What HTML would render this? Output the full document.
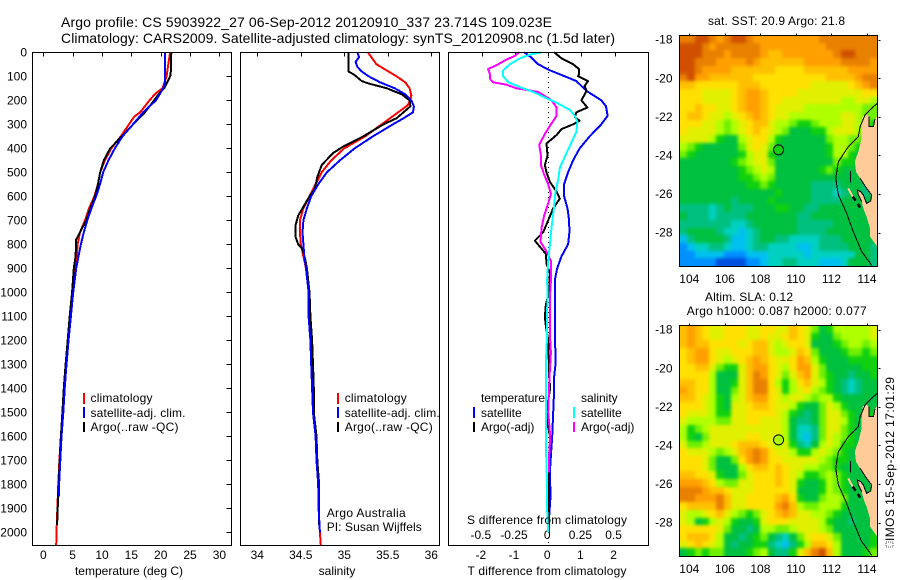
<!DOCTYPE html>
<html lang="en">
<head>
<meta charset="utf-8">
<title>Argo profile chart</title>
<style>
html,body{margin:0;padding:0;background:#fff;}
svg{display:block;font-family:"Liberation Sans",sans-serif;font-size:12px;fill:#000;}
.frame{fill:none;stroke:#000;stroke-width:1;shape-rendering:crispEdges;}
.tick{stroke:#000;stroke-width:1;shape-rendering:crispEdges;}
.curve{fill:none;stroke-width:2;shape-rendering:crispEdges;stroke-linejoin:round;}
.thin{fill:none;stroke:#000;stroke-width:1;shape-rendering:crispEdges;}
</style>
</head>
<body>
<svg id="chart" xmlns="http://www.w3.org/2000/svg" width="900" height="580" viewBox="0 0 900 580">
  <defs>
    <filter id="smooth1" filterUnits="userSpaceOnUse" x="680" y="36" width="197" height="230" color-interpolation-filters="sRGB">
      <feGaussianBlur stdDeviation="1.7"/>
      <feComponentTransfer><feFuncA type="linear" slope="30"/></feComponentTransfer>
    </filter>
    <filter id="smooth2" filterUnits="userSpaceOnUse" x="680" y="326" width="197" height="230" color-interpolation-filters="sRGB">
      <feGaussianBlur stdDeviation="1.7"/>
      <feComponentTransfer><feFuncA type="linear" slope="30"/></feComponentTransfer>
    </filter>
  </defs>
  <rect x="0" y="0" width="900" height="580" fill="#fff"/>
  <text x="61" y="27" font-size="14" textLength="491" lengthAdjust="spacing">Argo profile: CS 5903922_27 06-Sep-2012 20120910_337 23.714S 109.023E</text>
  <text x="61" y="43" font-size="14" textLength="554" lengthAdjust="spacing">Climatology: CARS2009. Satellite-adjusted climatology: synTS_20120908.nc (1.5d later)</text>

  <g id="heat1" filter="url(#smooth1)"></g>
  <g id="heat2" filter="url(#smooth2)"></g>
  <g id="marks"></g>

  <text x="129" y="575" text-anchor="middle">temperature (deg C)</text>
  <text x="337" y="575" text-anchor="middle">salinity</text>
  <text x="547" y="575" text-anchor="middle" textLength="159" lengthAdjust="spacing">T difference from climatology</text>
  <text x="547" y="524" text-anchor="middle" textLength="160" lengthAdjust="spacing">S difference from climatology</text>

  <g>
    <rect x="83" y="393" width="2" height="11" fill="#f00"/>
    <rect x="83" y="407" width="2" height="11" fill="#00f"/>
    <rect x="83" y="422" width="2" height="10" fill="#000"/>
    <text x="90.5" y="402" textLength="62" lengthAdjust="spacing">climatology</text>
    <text x="90.5" y="417" textLength="95" lengthAdjust="spacing">satellite-adj. clim.</text>
    <text x="90.5" y="431" textLength="88" lengthAdjust="spacing">Argo(..raw -QC)</text>
  </g>
  <g>
    <rect x="337" y="393" width="2" height="11" fill="#f00"/>
    <rect x="337" y="407" width="2" height="11" fill="#00f"/>
    <rect x="337" y="422" width="2" height="10" fill="#000"/>
    <text x="344.7" y="402" textLength="62" lengthAdjust="spacing">climatology</text>
    <text x="344.7" y="417" textLength="95" lengthAdjust="spacing">satellite-adj. clim.</text>
    <text x="344.7" y="431" textLength="88" lengthAdjust="spacing">Argo(..raw -QC)</text>
  </g>
  <text x="326.7" y="517" textLength="79" lengthAdjust="spacing">Argo Australia</text>
  <text x="326.7" y="531" textLength="95" lengthAdjust="spacing">PI: Susan Wijffels</text>
  <g>
    <text x="481" y="402" textLength="64" lengthAdjust="spacing">temperature</text>
    <rect x="473" y="407" width="2" height="11" fill="#00f"/>
    <rect x="473" y="422" width="2" height="10" fill="#000"/>
    <text x="481" y="417">satellite</text>
    <text x="481" y="431">Argo(-adj)</text>
    <text x="581" y="402">salinity</text>
    <rect x="573" y="407" width="2" height="11" fill="#0ff"/>
    <rect x="573" y="422" width="2" height="10" fill="#f0f"/>
    <text x="581" y="417">satellite</text>
    <text x="581" y="431">Argo(-adj)</text>
  </g>

  <text x="708" y="25" textLength="137" lengthAdjust="spacing">sat. SST: 20.9 Argo: 21.8</text>
  <text x="705" y="301" textLength="88" lengthAdjust="spacing">Altim. SLA: 0.12</text>
  <text x="686.7" y="315" textLength="180" lengthAdjust="spacing">Argo h1000: 0.087 h2000: 0.077</text>
  <rect x="886" y="542" width="7" height="5" fill="none" stroke="#555" stroke-width="1" stroke-dasharray="1 1"/>
  <text transform="translate(894,541) rotate(-90)" textLength="164" lengthAdjust="spacing">IMOS 15-Sep-2012 17:01:29</text>
</svg>
<script>
// ---------- profile data ----------
const climTempDepth = [0,50,100,150,170,200,250,268,300,350,400,450,500,550,600,650,700,750,800,850,900,1000,1100,1200,1300,1400,1500,1600,1700,1800,1900,2000,2054];
const climTemp = [21.6,21.3,21.0,20.3,19.2,18.1,16.5,15.5,14.6,13.2,11.6,10.5,9.7,9.3,8.7,7.8,7.1,6.25,5.85,5.7,5.45,5.0,4.55,4.2,3.85,3.55,3.3,3.0,2.75,2.55,2.4,2.25,2.2];
const satTempDepth = [0,130,150,200,250,300,350,400,450,500,550,600,650,700,750,800,850,900,1000,1100,1200,1300,1400,1500,1600,1700,1800,1850];
const satTemp = [20.7,20.7,20.45,19.2,17,15.3,13.5,12.2,11.1,10.2,9.66,9,8.2,7.5,6.9,6.4,6,5.6,5.1,4.7,4.3,3.95,3.65,3.4,3.1,2.9,2.7,2.65];
const argoTempDepth = [0,90,100,130,150,170,200,250,300,350,400,450,500,550,600,650,700,750,780,850,900,1000,1100,1200,1300,1400,1500,1600,1700,1800,1900,1970];
const argoTemp = [21.8,21.7,21.6,21,20.6,19.8,18.9,17.3,15.3,13.4,11.4,10.3,9.7,9.3,8.8,8,7.3,6.25,5.6,5.5,5.2,4.9,4.5,4.15,3.8,3.5,3.25,3.0,2.8,2.6,2.45,2.35];

const climSalDepth = [0,50,100,125,150,180,200,220,250,300,350,400,450,500,550,600,650,700,750,800,850,900,1000,1100,1200,1300,1400,1500,1600,1700,1800,1900,2000,2054];
const climSal = [35.27,35.37,35.6,35.7,35.75,35.77,35.76,35.73,35.62,35.43,35.24,35.0,34.85,34.74,34.67,34.6,34.53,34.49,34.49,34.5,34.53,34.56,34.59,34.6,34.61,34.62,34.63,34.64,34.67,34.68,34.7,34.705,34.72,34.73];
const satSalDepth = [0,20,40,60,80,100,125,150,175,200,225,250,275,300,350,400,450,500,550,600,650,700,750,800,850,900,1000,1100,1200,1300,1400,1500,1600,1700,1800,1900,2000];
const satSal = [35.15,35.17,35.13,35.15,35.2,35.28,35.41,35.58,35.7,35.77,35.8,35.79,35.68,35.56,35.33,35.12,34.95,34.8,34.7,34.62,34.57,34.53,34.52,34.53,34.54,34.56,34.59,34.59,34.61,34.62,34.63,34.64,34.67,34.68,34.7,34.705,34.72];
const argoSalDepth = [0,80,95,120,130,150,175,200,225,250,275,300,350,390,420,470,520,570,600,650,680,720,770,800,820,860,900,1000,1100,1200,1300,1400,1500,1600,1700,1800,1900,1970];
const argoSal = [35.05,35.05,35.12,35.2,35.28,35.49,35.66,35.75,35.76,35.68,35.6,35.45,35.22,35,34.87,34.74,34.69,34.66,34.6,34.52,34.47,34.44,34.44,34.47,34.52,34.55,34.57,34.6,34.61,34.63,34.64,34.65,34.65,34.68,34.69,34.71,34.71,34.71];

const satTDiffDepth = [0,20,50,75,100,120,140,165,200,225,265,300,350,400,450,500,550,600,650,700,750,800,850,900,950,1000,1100,1200,1250,1300,1350,1400,1500,1600,1680,1750,1850,1950,2000];
const satTDiff = [-0.72,-0.52,-0.3,0.05,0.5,0.85,1.0,1.2,1.6,1.74,1.79,1.6,1.25,0.95,0.75,0.6,0.48,0.48,0.58,0.63,0.64,0.6,0.4,0.27,0.2,0.2,0.2,0.2,0.22,0.22,0.18,0.18,0.15,0.12,0.08,0.05,0.07,0.02,0.02];
const argoTDiffDepth = [0,25,50,70,90,100,120,140,160,180,200,230,250,270,285,300,320,345,380,430,470,500,540,580,610,650,700,750,785,810,840,880,920,1000,1050,1100,1130,1200,1300,1350,1400,1450,1500,1550,1600,1700,2000];
const argoTDiff = [0.18,0.4,0.75,0.93,0.93,0.9,1.2,1.1,1.15,1.08,1.0,1.18,0.85,0.8,0.95,0.75,0.4,0.25,-0.05,-0.02,-0.1,-0.05,0.05,0.25,0.35,0.15,0,-0.15,-0.4,-0.25,-0.07,-0.05,0.05,0.02,-0.07,-0.1,-0.08,0,0.02,0.03,0.06,0,-0.05,-0.02,0.06,0.02,0];
const argoSDiffDepth = [0,15,30,50,70,90,110,125,135,150,165,200,230,265,300,340,385,430,470,510,550,590,620,680,730,790,830,870,950,1000,1100,1200,1250,1350,1500,1600,1700,1750];
const argoSDiff = [-0.221,-0.25,-0.314,-0.377,-0.452,-0.44,-0.44,-0.415,-0.314,-0.24,-0.075,0.025,0.063,0.063,0.02,-0.025,-0.068,-0.055,-0.055,-0.03,0,0.02,0.005,-0.03,-0.05,-0.058,-0.013,0.02,0.02,0.015,0.013,0.015,0.02,0.01,0,0.015,0.005,0.005];
const satSDiffDepth = [0,10,25,50,75,100,125,145,165,185,210,240,265,290,330,370,420,480,530,580,650,730,800,870,950,1000,1100,1200,1300,1400,1500,1600,1680,1800,1900,2000];
const satSDiff = [-0.05,-0.138,-0.213,-0.289,-0.339,-0.339,-0.3,-0.214,-0.113,-0.038,0.063,0.163,0.2,0.22,0.213,0.18,0.138,0.088,0.075,0.055,0.043,0.025,0.013,0,-0.008,-0.005,-0.008,-0.01,-0.018,-0.018,-0.018,-0.018,-0.015,-0.008,-0.008,0];

// ---------- tick labels ----------
const depthTicks = [0,100,200,300,400,500,600,700,800,900,1000,1100,1200,1300,1400,1500,1600,1700,1800,1900,2000];
const tempTicks = [0,5,10,15,20,25,30];
const salTicks = [34,34.5,35,35.5,36];
const tDiffTicks = [-2,-1,0,1,2];
const sDiffTicks = [-0.5,-0.25,0,0.25,0.5];
const mapLonTicks = [104,106,108,110,112,114];
const mapLatTicks = [-18,-20,-22,-24,-26,-28];

// ---------- map data (colour levels; rows north to south) ----------
const sstRows = [
[13,13,14,14,13,12,13,14,14,13,12,12,12,12,12,12,12,12,12,13,13,13,13,13,13,13,13],
[14,14,14,13,12,13,13,13,13,13,13,12,12,12,12,12,12,12,12,12,13,13,13,13,13,13,13],
[14,14,14,13,13,13,12,13,13,13,13,12,11,11,12,12,12,12,12,12,12,13,14,14,13,13,13],
[14,14,13,13,13,12,12,12,12,13,12,11,11,11,11,11,11,12,12,12,12,12,13,13,13,13,12],
[14,14,13,12,12,12,12,11,11,11,11,11,11,10,10,10,10,11,11,11,11,11,11,12,12,12,12],
[13,14,12,12,11,11,11,11,11,11,10,10,10,10,10,10,10,10,10,10,11,11,11,11,12,13,13],
[11,11,10,10,10,10,10,10,11,11,11,10,10,10,10,10,10,10,9,9,9,9,9,10,11,12,13],
[10,10,10,9,9,9,9,10,11,12,12,11,10,10,10,10,9,9,9,9,9,9,9,9,9,10,10],
[10,10,10,9,9,9,9,10,11,12,12,11,10,10,9,9,9,9,9,9,9,9,8,8,9,9,8],
[10,10,11,10,10,9,9,10,11,12,12,11,10,9,9,9,9,8,8,8,8,8,8,8,8,7,7],
[10,11,11,10,9,9,8,9,10,11,12,11,10,9,9,8,8,8,8,8,8,8,9,9,8,7,7],
[10,10,10,9,9,8,7,8,9,10,11,11,9,8,8,7,6,6,7,8,8,8,9,9,8,7,6],
[10,9,9,9,9,8,7,8,9,10,11,10,9,8,7,5,5,5,6,6,8,9,9,9,8,6,6],
[9,9,9,9,8,6,5,5,8,9,10,10,8,6,5,5,5,5,5,5,7,8,8,7,7,6,6],
[8,7,6,5,5,5,5,5,7,9,10,9,7,5,5,5,5,5,5,5,6,8,8,7,6,5,5],
[7,6,5,5,5,5,5,5,6,8,9,9,6,5,5,5,5,5,5,5,6,8,8,6,5,5,5],
[5,5,5,5,5,5,5,6,7,8,9,9,7,5,5,5,5,5,5,5,5,7,6,6,5,5,5],
[5,5,5,5,5,5,5,5,6,7,8,9,8,5,5,5,5,5,5,6,7,6,5,5,5,5,5],
[5,5,5,5,5,5,5,5,6,6,7,8,7,5,5,5,5,5,5,5,5,5,5,5,5,4,5],
[5,5,5,5,5,5,5,5,5,6,6,7,6,5,5,5,5,5,4,4,4,4,5,5,5,4,4],
[5,5,5,5,5,5,5,5,5,5,5,5,5,6,5,5,5,5,4,4,4,3,4,5,5,4,5],
[5,5,5,5,5,5,5,4,5,5,5,5,6,5,5,5,5,5,4,4,4,4,5,5,5,5,5],
[4,4,4,4,3,4,5,4,4,4,5,5,5,6,6,5,5,4,4,5,5,5,5,5,5,5,5],
[5,4,4,4,3,4,4,4,4,5,5,5,5,5,5,5,4,4,5,5,5,5,5,5,5,5,5],
[4,4,4,4,4,4,4,3,3,4,5,5,5,5,5,5,4,4,4,4,4,5,5,5,5,5,5],
[4,5,5,5,5,4,3,3,2,3,4,5,5,5,5,5,4,4,4,4,5,5,5,5,5,5,5],
[2,4,5,5,5,5,4,2,2,3,4,5,5,4,4,3,3,3,3,4,4,4,5,5,5,5,5],
[1,2,3,3,4,4,3,2,2,3,4,4,3,3,3,3,2,2,3,4,4,4,4,5,5,5,4],
[1,1,2,2,2,2,1,1,1,2,2,2,3,3,3,3,3,2,3,3,3,3,3,3,5,5,4],
[1,1,1,1,1,0,0,0,0,1,1,2,3,3,4,4,3,3,3,2,2,2,3,5,5,5,4]
];
const slaRows = [
[11,12,11,10,9,9,10,10,10,9,9,10,10,9,9,11,10,9,7,5,6,8,8,8,8,8,9],
[11,12,11,10,9,9,10,10,10,9,9,10,9,9,10,11,10,9,6,5,5,7,8,8,8,8,9],
[11,12,11,11,10,10,10,10,9,10,11,11,9,8,9,10,10,9,5,5,5,6,7,8,8,7,8],
[10,11,12,12,10,9,9,10,10,10,11,11,9,8,8,9,11,10,7,5,5,5,6,7,7,6,7],
[10,11,12,12,10,9,8,9,10,11,12,11,10,9,9,10,12,11,8,6,5,5,5,6,6,6,6],
[10,10,11,11,9,7,6,6,9,11,12,12,10,9,8,10,12,12,9,7,5,5,5,5,5,6,6],
[10,10,10,10,8,5,5,5,9,11,13,12,10,9,7,9,11,12,9,7,6,5,5,4,5,5,6],
[11,11,10,10,8,5,5,6,9,11,13,13,10,8,6,8,10,11,9,8,6,5,4,3,4,5,5],
[12,11,10,10,8,5,5,7,9,11,13,13,10,9,6,8,9,10,8,7,6,5,4,3,4,5,5],
[11,11,10,9,8,6,5,8,9,11,12,12,10,9,8,9,9,8,7,8,8,6,5,5,5,5,5],
[10,10,10,9,8,6,5,9,9,10,11,11,10,9,9,8,6,5,5,7,9,8,6,5,5,5,5],
[10,9,9,9,8,6,6,9,9,10,10,10,10,9,8,6,5,4,5,7,9,9,7,6,5,5,6],
[9,8,8,8,8,7,7,9,9,10,10,9,9,9,8,5,4,4,5,7,9,9,8,6,5,5,6],
[8,6,7,8,9,9,9,9,9,9,9,9,9,9,8,5,3,3,4,7,9,9,7,6,5,5,6],
[8,6,5,7,9,9,9,9,9,10,10,9,9,9,8,5,3,2,4,7,9,8,7,6,5,5,6],
[9,7,7,8,9,9,9,10,11,11,11,10,9,8,9,6,4,3,5,8,9,8,6,6,5,5,6],
[10,9,9,9,8,7,8,9,11,12,13,12,10,9,9,8,6,6,8,9,8,7,6,5,5,6,6],
[10,10,10,9,7,5,5,7,10,12,13,12,10,10,9,9,9,9,9,8,7,6,6,5,5,6,6],
[10,10,10,9,7,5,5,5,8,10,11,11,10,11,10,9,9,8,8,7,7,6,5,5,5,5,6],
[11,11,10,10,9,6,5,5,7,9,10,10,10,11,10,9,8,6,6,7,8,7,6,5,5,5,6],
[12,12,12,11,10,8,7,7,9,9,10,10,10,11,10,9,6,5,5,6,8,7,6,5,5,5,5],
[13,13,13,12,11,11,10,9,9,9,10,10,10,10,10,9,5,5,5,6,8,7,6,5,5,5,5],
[13,13,12,12,12,13,11,9,9,10,10,10,10,11,12,10,6,5,5,7,8,8,7,5,5,5,5],
[10,11,11,11,11,13,11,9,9,10,10,10,10,12,13,11,8,7,7,8,8,8,6,5,5,5,5],
[9,8,8,9,10,11,9,8,7,6,7,9,10,11,12,11,9,9,8,8,7,6,5,5,5,5,5],
[9,8,5,6,8,9,8,6,5,5,6,9,10,10,10,9,9,9,9,8,6,5,5,4,5,5,5],
[10,10,10,10,10,9,7,5,5,4,5,8,8,7,7,8,9,9,9,8,7,5,5,5,5,5,5],
[10,11,11,11,10,8,5,5,4,5,6,7,5,4,3,5,7,9,10,10,9,7,5,5,5,5,6],
[9,10,11,10,9,8,5,4,5,5,6,6,4,3,2,4,6,8,11,11,10,8,5,5,5,5,6],
[5,6,7,6,7,7,5,5,5,6,7,8,5,4,4,6,9,11,13,14,11,8,5,5,5,6,7]
];
const levelColours = ["#0050e0","#0090ff","#00c0f0","#00d0c0","#00c080","#00c040","#10d010","#70f000","#b0ff00","#e0f000","#ffe000","#ffc000","#ffa000","#e88000","#d05000"];
const landLon = [114.58,114.45,114.36,114.11,114.11,113.94,113.76,113.70,113.70,113.51,113.32,113.38,113.61,113.98,114.26,114.21,113.98,113.79,113.64,113.46,113.51,113.70,113.79,113.98,114.17,114.17,114.58];
const landLat = [-21.94,-22.11,-22.51,-22.51,-21.99,-21.87,-21.99,-22.60,-23.12,-23.81,-24.33,-24.84,-25.19,-25.71,-26.05,-26.37,-26.49,-26.05,-25.88,-25.80,-26.05,-26.40,-26.75,-27.18,-27.78,-28.22,-28.73];
const bayLon = [113.61,113.98,114.26,114.21,113.98,113.79,113.64,113.46,113.51,113.70];
const bayLat = [-25.19,-25.71,-26.05,-26.37,-26.49,-26.05,-25.88,-25.80,-26.05,-26.40];
const gulfLon = [114.45,114.36,114.11,114.11];
const gulfLat = [-22.11,-22.51,-22.51,-21.99];
const contourLon = [114.58,114.26,113.89,113.61,113.51,112.95,112.39,112.24,112.39,112.86,113.23,113.70,114.26];
const contourLat = [-21.30,-21.56,-21.91,-22.51,-23.03,-23.55,-24.33,-25.19,-26.05,-27.01,-27.96,-28.99,-29.69];
const islandLon = [112.95,113.19];
const islandLat = [-25.71,-26.14];
const reefLon = [113.19,113.38,113.61];
const reefLat = [-26.14,-26.37,-26.71];
const spitLon = [113.08,113.08];
const spitLat = [-24.81,-25.40];
const floatLon = 109.023;
const floatLat = -23.714;
const floatSstLevel = 6;
const floatSlaLevel = 8;

// ---------- axis functions ----------
const plotTop = 52, plotBottom = 545;
const yDepth = d => 52.3 + d * 0.24;
const xTemp = t => 43.3 + t * 5.87;
const xSal = s => 257.3 + (s - 34) * 87;
const xTDiff = t => 548.2 + t * 33.2;
const xSDiff = s => 548.2 + s * 132.8;
const lonX = l => 689.3 + (l - 104) * 17.77;
const latY = (l, top) => top + 4.7 + (-18 - l) * 19.28;

const NS = "http://www.w3.org/2000/svg";
const marks = document.getElementById("marks");
function mk(tag, attrs, parent) {
  const el = document.createElementNS(NS, tag);
  for (const k in attrs) el.setAttribute(k, attrs[k]);
  (parent || marks).appendChild(el);
  return el;
}
function curve(depths, vals, xf, colour, name) {
  const pts = depths.map((d, i) => xf(vals[i]).toFixed(1) + "," + yDepth(d).toFixed(1)).join(" ");
  const el = mk("polyline", {points: pts, class: "curve", stroke: colour});
  
  
}
function label(x, y, txt, anchor, name) {
  const el = mk("text", {x: x, y: y, "text-anchor": anchor});
  el.textContent = txt;
  
  
}
function tick(x1, y1, x2, y2, name) {
  const el = mk("line", {x1: Math.round(x1) + .5, y1: Math.round(y1) + .5, x2: Math.round(x2) + .5, y2: Math.round(y2) + .5, class: "tick"});
  
  
}
function frame(x, y, w, h, name) {
  const el = mk("rect", {x: x + .5, y: y + .5, width: w, height: h, class: "frame"});
  
  
}
function geoPoints(lons, lats, top) {
  return lons.map((l, i) => lonX(l).toFixed(1) + "," + latY(lats[i], top).toFixed(1)).join(" ");
}

// ---------- profile panels ----------
depthTicks.forEach(d => {
  label(27, yDepth(d) + 4, String(d), "end", "depth-tick-label");
  tick(226, yDepth(d), 231, yDepth(d), "depth-tick");
});
tempTicks.forEach(t => {
  label(xTemp(t), 559, String(t), "middle", "temperature-tick-label");
  tick(xTemp(t), 52, xTemp(t), 56, "temperature-tick");
});
salTicks.forEach(s => {
  label(xSal(s), 559, String(s), "middle", "salinity-tick-label");
  tick(xSal(s), 52, xSal(s), 56, "salinity-tick");
});
tDiffTicks.forEach(t => {
  label(xTDiff(t) - 1, 559, String(t), "middle", "t-difference-tick-label");
  tick(xTDiff(t), 52, xTDiff(t), 56, "t-difference-tick");
});
sDiffTicks.forEach(s => {
  label(xSDiff(s) - 1, 539, String(s), "middle", "s-difference-tick-label");
});

curve(climTempDepth, climTemp, xTemp, "#f00", "temperature-climatology-line");
curve(argoTempDepth, argoTemp, xTemp, "#000", "temperature-argo-line");
curve(satTempDepth, satTemp, xTemp, "#00f", "temperature-satellite-line");

curve(climSalDepth, climSal, xSal, "#f00", "salinity-climatology-line");
curve(argoSalDepth, argoSal, xSal, "#000", "salinity-argo-line");
curve(satSalDepth, satSal, xSal, "#00f", "salinity-satellite-line");

const zeroLine = mk("line", {x1: 548.5, y1: plotTop, x2: 548.5, y2: plotBottom, stroke: "#000", "stroke-width": 1, "stroke-dasharray": "1 4", "shape-rendering": "crispEdges"});



curve(satTDiffDepth, satTDiff, xTDiff, "#00f", "t-difference-satellite-line");
curve(argoTDiffDepth, argoTDiff, xTDiff, "#000", "t-difference-argo-line");
curve(argoSDiffDepth, argoSDiff, xSDiff, "#f0f", "s-difference-argo-line");
curve(satSDiffDepth, satSDiff, xSDiff, "#0ff", "s-difference-satellite-line");

frame(32, 52, 199, 493, "temperature-plot-frame");
frame(240, 52, 199, 493, "salinity-plot-frame");
frame(448, 52, 200, 493, "difference-plot-frame");

// ---------- maps ----------
function drawMap(rows, top, group, floatLevel, prefix) {
  const left = 680, right = 877, bottom = top + 231;
  const nr = rows.length, nc = rows[0].length;
  rows.forEach((row, r) => {
    row.forEach((v, c) => {
      const x0 = Math.round(left + (right - left) * c / nc), x1 = Math.round(left + (right - left) * (c + 1) / nc);
      const y0 = Math.round(top + (bottom - top) * r / nr), y1 = Math.round(top + (bottom - top) * (r + 1) / nr);
      const cell = mk("rect", {x: x0, y: y0, width: x1 - x0, height: y1 - y0, fill: levelColours[v], "shape-rendering": "crispEdges"}, group);
      
      
    });
  });
  const land = mk("polygon", {points: geoPoints(landLon, landLat, top), fill: "#ffcc99", "shape-rendering": "crispEdges"});
  
  
  const island = mk("polyline", {points: geoPoints(islandLon, islandLat, top), fill: "none", stroke: "#ffcc99", "stroke-width": 2, "shape-rendering": "crispEdges"});
  
  
  const reef = mk("polyline", {points: geoPoints(reefLon, reefLat, top), fill: "none", stroke: "#000", "stroke-width": 2.5, "stroke-dasharray": "5 4"});
  
  
  const spit = mk("polyline", {points: geoPoints(spitLon, spitLat, top), class: "thin"});
  
  
  const bay = mk("polyline", {points: geoPoints(bayLon, bayLat, top), class: "thin"});
  
  
  const gulf = mk("polyline", {points: geoPoints(gulfLon, gulfLat, top), class: "thin"});
  
  
  const contour = mk("polyline", {points: geoPoints(contourLon, contourLat, top), class: "thin"});
  
  
  const dot = mk("circle", {cx: lonX(floatLon), cy: latY(floatLat, top), r: 5, fill: levelColours[floatLevel], stroke: "#000", "stroke-width": 1});
  
  
  frame(679, top, 198, 231, prefix + "-frame");
  mapLonTicks.forEach(l => {
    label(lonX(l), bottom + 17, String(l), "middle", prefix + "-longitude-label");
    tick(lonX(l), top - 2, lonX(l), top, prefix + "-longitude-tick");
  });
  mapLatTicks.forEach(l => {
    label(672.5, latY(l, top) + 4, String(l), "end", prefix + "-latitude-label");
    tick(878, latY(l, top), 880, latY(l, top), prefix + "-latitude-tick");
  });
}
drawMap(sstRows, 35, document.getElementById("heat1"), floatSstLevel, "sst-map");
drawMap(slaRows, 325, document.getElementById("heat2"), floatSlaLevel, "sla-map");
</script>
</body>
</html>
